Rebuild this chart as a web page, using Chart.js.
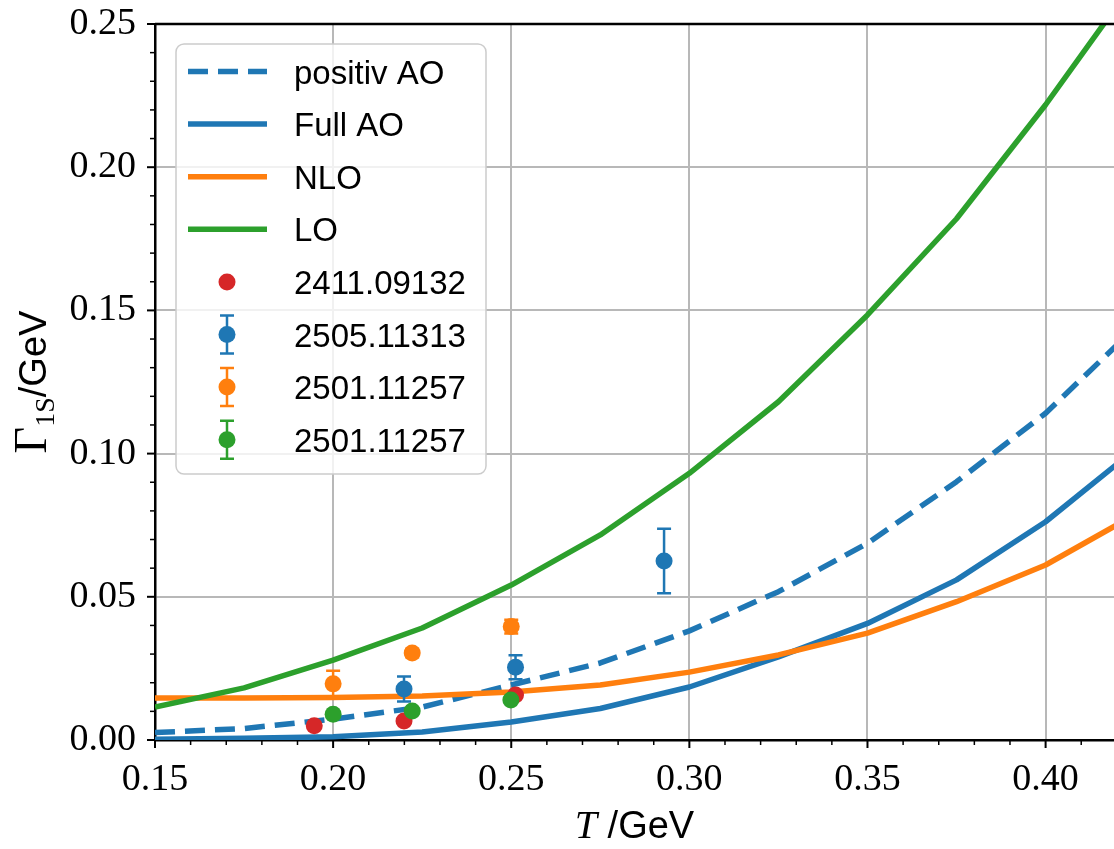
<!DOCTYPE html>
<html>
<head>
<meta charset="utf-8">
<script src="https://cdn.jsdelivr.net/npm/chart.js@4.4.1/dist/chart.umd.min.js"></script>
<style>
  html, body { margin: 0; padding: 0; background: #fff; }
</style>
</head>
<body>
<canvas id="gammaChart" width="1114" height="849"></canvas>
<script>
// curves, sampled every 0.025 GeV
var tempGrid  = [0.15, 0.175, 0.2, 0.225, 0.25, 0.275, 0.3, 0.325, 0.35, 0.375, 0.4, 0.425];
var positivAO = [0.0026, 0.0040, 0.0073, 0.0115, 0.0192, 0.0269, 0.0381, 0.0518, 0.0687, 0.0902, 0.1141, 0.1438];
var fullAO    = [0.0003, 0.0006, 0.0011, 0.0028, 0.0063, 0.0110, 0.0185, 0.0290, 0.0407, 0.0559, 0.0762, 0.1013];
var nloRate   = [0.0147, 0.0147, 0.0148, 0.0154, 0.0168, 0.0192, 0.0237, 0.0297, 0.0373, 0.0483, 0.0611, 0.0786];
var loRate    = [0.0115, 0.0182, 0.0279, 0.0391, 0.0541, 0.0716, 0.0931, 0.1181, 0.1484, 0.1820, 0.2218, 0.2650];

// lattice points
var redT = [0.1947, 0.2199, 0.2512];
var redRate = [0.0050, 0.0066, 0.0157];
var blueT = [0.2199, 0.2512, 0.2929];
var blueRate = [0.0178, 0.0254, 0.0625];
var blueErr = [0.0044, 0.0042, 0.0113];
var orangeT = [0.2000, 0.2222, 0.2500];
var orangeRate = [0.0196, 0.0304, 0.0396];
var orangeErr = [0.0046, 0.0015, 0.0024];
var greenT = [0.2000, 0.2222, 0.2499];
var greenRate = [0.0090, 0.0101, 0.0140];
var greenErr = [0.0010, 0.0010, 0.0010];

var xTicks = [0.15, 0.20, 0.25, 0.30, 0.35, 0.40];
var yTicks = [0.00, 0.05, 0.10, 0.15, 0.20, 0.25];

var C_BLUE = '#1f77b4', C_ORANGE = '#ff7f0e', C_GREEN = '#2ca02c', C_RED = '#d62728';

function pts(xs, ys) {
    return xs.map(function (x, i) { return { x: x, y: ys[i] }; });
}

function curve(label, ys, color, order, dash) {
    return {
        type: 'line', label: label, data: pts(tempGrid, ys),
        borderColor: color, borderWidth: 5.5, borderDash: dash || [],
        borderCapStyle: 'butt', borderJoinStyle: 'round',
        pointRadius: 0, tension: 0, fill: false, clip: 0, order: order
    };
}

function points(label, xs, ys, errs, color, order) {
    return {
        type: 'scatter', label: label, data: pts(xs, ys), errors: errs,
        backgroundColor: color, borderColor: color, borderWidth: 0,
        pointRadius: 8.5, pointHoverRadius: 8.5, order: order
    };
}

// no extra room around the plot box
function noPad(s) {
    s.paddingTop = 0; s.paddingBottom = 0; s.paddingLeft = 0; s.paddingRight = 0;
}

// error bars under each point set
var errorBars = {
    id: 'errorBars',
    beforeDatasetDraw: function (chart, args) {
        var ds = chart.data.datasets[args.index];
        if (!ds.errors) return;
        var xs = chart.scales.x, ys = chart.scales.y, ctx = chart.ctx;
        ctx.save();
        ctx.strokeStyle = ds.borderColor;
        ctx.lineWidth = 2.5;
        ds.data.forEach(function (p, i) {
            var px = xs.getPixelForValue(p.x);
            var top = ys.getPixelForValue(p.y + ds.errors[i]);
            var bot = ys.getPixelForValue(p.y - ds.errors[i]);
            ctx.beginPath();
            ctx.moveTo(px, top); ctx.lineTo(px, bot);
            ctx.moveTo(px - 7, top); ctx.lineTo(px + 7, top);
            ctx.moveTo(px - 7, bot); ctx.lineTo(px + 7, bot);
            ctx.stroke();
        });
        ctx.restore();
    }
};

// minor/major ticks, top spine, axis titles, legend box
var decor = {
    id: 'decor',
    afterDraw: function (chart) {
        var ctx = chart.ctx, a = chart.chartArea;
        var xs = chart.scales.x, ys = chart.scales.y;
        ctx.save();
        ctx.strokeStyle = '#000';
        // top spine
        ctx.lineWidth = 2.5;
        ctx.beginPath(); ctx.moveTo(a.left, a.top); ctx.lineTo(a.right, a.top); ctx.stroke();
        // x ticks
        for (var k = 15; k <= 41; k++) {
            var px = xs.getPixelForValue(k / 100);
            var major = k % 5 === 0;
            ctx.lineWidth = major ? 2 : 1.5;
            ctx.beginPath(); ctx.moveTo(px, a.bottom); ctx.lineTo(px, a.bottom + (major ? 8 : 5)); ctx.stroke();
        }
        // y ticks
        for (var j = 0; j <= 25; j++) {
            var py = ys.getPixelForValue(j / 100);
            var majorY = j % 5 === 0;
            ctx.lineWidth = majorY ? 2 : 1.5;
            ctx.beginPath(); ctx.moveTo(a.left, py); ctx.lineTo(a.left - (majorY ? 8 : 5), py); ctx.stroke();
        }

        // x title: T /GeV
        ctx.fillStyle = '#000';
        ctx.textBaseline = 'alphabetic';
        var fT = 'italic 40px "Liberation Serif"', fG = '38px "Liberation Sans"';
        ctx.font = fT; var wT = ctx.measureText('T').width;
        ctx.font = fG; var wG = ctx.measureText(' /GeV').width;
        var x0 = (a.left + a.right) / 2 - (wT + wG) / 2;
        ctx.font = fT; ctx.fillText('T', x0, 838);
        ctx.font = fG; ctx.fillText(' /GeV', x0 + wT, 838);

        // y title: Γ_1S/GeV
        ctx.save();
        ctx.translate(46, (a.top + a.bottom) / 2);
        ctx.rotate(-Math.PI / 2);
        var fGam = '46px "Liberation Serif"', fSub = '28px "Liberation Serif"';
        ctx.font = fGam; var w1 = ctx.measureText('\u0393').width;
        ctx.font = fSub; var w2 = ctx.measureText('1S').width;
        ctx.font = fG; var w3 = ctx.measureText('/GeV').width;
        var s = -(w1 + w2 + w3) / 2;
        ctx.font = fGam; ctx.fillText('\u0393', s, 0);
        ctx.font = fSub; ctx.fillText('1S', s + w1, 8);
        ctx.font = fG; ctx.fillText('/GeV', s + w1 + w2, 0);
        ctx.restore();

        // legend
        var bx = 176, by = 44, bw = 310, bh = 430, r = 8;
        ctx.beginPath();
        ctx.moveTo(bx + r, by);
        ctx.arcTo(bx + bw, by, bx + bw, by + bh, r);
        ctx.arcTo(bx + bw, by + bh, bx, by + bh, r);
        ctx.arcTo(bx, by + bh, bx, by, r);
        ctx.arcTo(bx, by, bx + bw, by, r);
        ctx.closePath();
        ctx.fillStyle = 'rgba(255,255,255,0.8)';
        ctx.fill();
        ctx.strokeStyle = '#cccccc';
        ctx.lineWidth = 1.5;
        ctx.stroke();

        chart.data.datasets.forEach(function (ds, i) {
            var cy = 71.5 + i * 52.6;
            ctx.strokeStyle = ds.borderColor;
            if (ds.type === 'line') {
                ctx.lineWidth = 5.5;
                ctx.lineCap = 'butt';
                ctx.setLineDash(ds.borderDash);
                ctx.beginPath(); ctx.moveTo(188, cy); ctx.lineTo(267, cy); ctx.stroke();
                ctx.setLineDash([]);
            } else {
                if (ds.errors) {
                    ctx.lineWidth = 2.5;
                    ctx.beginPath();
                    ctx.moveTo(227, cy - 19); ctx.lineTo(227, cy + 19);
                    ctx.moveTo(220, cy - 19); ctx.lineTo(234, cy - 19);
                    ctx.moveTo(220, cy + 19); ctx.lineTo(234, cy + 19);
                    ctx.stroke();
                }
                ctx.fillStyle = ds.backgroundColor;
                ctx.beginPath(); ctx.arc(227, cy, 8.5, 0, Math.PI * 2); ctx.fill();
            }
            ctx.fillStyle = '#000';
            ctx.font = '33px "Liberation Sans"';
            ctx.fillText(ds.label, 294, cy + 12);
        });
        ctx.restore();
    }
};

var tickFont = { family: 'Liberation Serif', size: 38 };

var ctx1 = document.getElementById('gammaChart').getContext('2d');
var gammaChart = new Chart(ctx1, {
    type: 'scatter',
    data: {
        datasets: [
            curve('positiv AO', positivAO, C_BLUE, 8, [20, 10]),
            curve('Full AO', fullAO, C_BLUE, 7),
            curve('NLO', nloRate, C_ORANGE, 6),
            curve('LO', loRate, C_GREEN, 5),
            points('2411.09132', redT, redRate, null, C_RED, 4),
            points('2505.11313', blueT, blueRate, blueErr, C_BLUE, 3),
            points('2501.11257', orangeT, orangeRate, orangeErr, C_ORANGE, 2),
            points('2501.11257', greenT, greenRate, greenErr, C_GREEN, 1)
        ]
    },
    options: {
        responsive: false,
        animation: false,
        events: [],
        layout: { autoPadding: false, padding: { top: 24, right: 0, bottom: 0, left: 0 } },
        scales: {
            x: {
                type: 'linear', min: 0.15, max: 0.4192, bounds: 'data',
                afterBuildTicks: function (s) { s.ticks = xTicks.map(function (v) { return { value: v }; }); },
                afterFit: function (s) { s.height = 109; noPad(s); },
                ticks: {
                    font: tickFont, color: '#000', padding: 17, maxRotation: 0, autoSkip: false,
                    callback: function (v) { return v.toFixed(2); }
                },
                grid: { color: '#b8b8b8', lineWidth: 2, drawTicks: false },
                border: { display: true, color: '#000', width: 2.5 }
            },
            y: {
                type: 'linear', min: 0, max: 0.25, bounds: 'data',
                afterBuildTicks: function (s) { s.ticks = yTicks.map(function (v) { return { value: v }; }); },
                afterFit: function (s) { s.width = 155; noPad(s); },
                ticks: {
                    font: tickFont, color: '#000', padding: 19, autoSkip: false,
                    callback: function (v) { return v.toFixed(2); }
                },
                grid: { color: '#b8b8b8', lineWidth: 2, drawTicks: false },
                border: { display: true, color: '#000', width: 2.5 }
            }
        },
        plugins: {
            legend: { display: false },
            tooltip: { enabled: false }
        }
    },
    plugins: [errorBars, decor]
});
</script>
</body>
</html>
